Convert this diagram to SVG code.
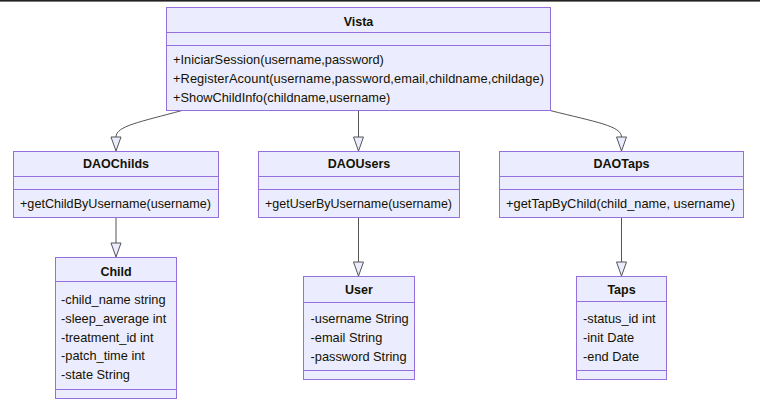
<svg xmlns="http://www.w3.org/2000/svg" width="760" height="411" viewBox="0 0 760 411">
<style>
.box{fill:#ECECFF;stroke:#9370DB;stroke-width:1}
.div{stroke:#9370DB;stroke-width:1;fill:none}
.edge{fill:none;stroke:#555;stroke-width:1}
.head{fill:#ECECFF;stroke:#555;stroke-width:1}
text{font-family:"Liberation Sans",Arial,sans-serif;fill:#131300}
.t{font-size:12.5px;font-weight:bold;text-anchor:middle}
.m{font-size:12.8px}
</style>
<rect x="0" y="0" width="760" height="1.6" fill="#222"/>
<g id="connectors">
<path class="edge" d="M182,110.5 C140,122 116,126 116,137"/>
<polygon class="head" points="111,137 121,137 116,151"/>
<path class="edge" d="M358.5,110.5 L358.5,137"/>
<polygon class="head" points="353.5,137 363.5,137 358.5,151"/>
<path class="edge" d="M550,110.5 C596,122 621.5,126 621.5,137"/>
<polygon class="head" points="616.5,137 626.5,137 621.5,151"/>
<path class="edge" d="M116,217.5 L116,243"/>
<polygon class="head" points="111,243 121,243 116,257"/>
<path class="edge" d="M358.5,217.5 L358.5,262"/>
<polygon class="head" points="353.5,262 363.5,262 358.5,276"/>
<path class="edge" d="M621.5,217.5 L621.5,262"/>
<polygon class="head" points="616.5,262 626.5,262 621.5,276"/>
</g>
<g id="Vista">
<rect class="box" x="166.5" y="7.5" width="384" height="103"/>
<path class="div" d="M166.5,32.5 H550.5 M166.5,45.5 H550.5"/>
<text class="t" x="358.5" y="26">Vista</text>
<text class="m" x="173" y="64.3">+IniciarSession(username,password)</text>
<text class="m" x="173" y="83" textLength="371" lengthAdjust="spacing">+RegisterAcount(username,password,email,childname,childage)</text>
<text class="m" x="173" y="101.5">+ShowChildInfo(childname,username)</text>
</g>
<g id="DAOChilds">
<rect class="box" x="13.5" y="151.5" width="205" height="66"/>
<path class="div" d="M13.5,176.5 H218.5 M13.5,189.5 H218.5"/>
<text class="t" x="116" y="168.3">DAOChilds</text>
<text class="m" x="20" y="208.3" textLength="191" lengthAdjust="spacingAndGlyphs">+getChildByUsername(username)</text>
</g>
<g id="DAOUsers">
<rect class="box" x="258.5" y="151.5" width="201" height="66"/>
<path class="div" d="M258.5,176.5 H459.5 M258.5,189.5 H459.5"/>
<text class="t" x="359" y="168.3">DAOUsers</text>
<text class="m" x="265" y="208.3" textLength="187" lengthAdjust="spacingAndGlyphs">+getUserByUsername(username)</text>
</g>
<g id="DAOTaps">
<rect class="box" x="499.5" y="151.5" width="244" height="66"/>
<path class="div" d="M499.5,176.5 H743.5 M499.5,189.5 H743.5"/>
<text class="t" x="621.5" y="168.3">DAOTaps</text>
<text class="m" x="506" y="208.3" textLength="229" lengthAdjust="spacing">+getTapByChild(child_name, username)</text>
</g>
<g id="Child">
<rect class="box" x="55.5" y="257.5" width="121" height="141"/>
<path class="div" d="M55.5,281.5 H176.5 M55.5,389.5 H176.5"/>
<text class="t" x="116" y="276">Child</text>
<text class="m" x="61" y="304">-child_name string</text>
<text class="m" x="61" y="322.8">-sleep_average int</text>
<text class="m" x="61" y="341.5">-treatment_id int</text>
<text class="m" x="61" y="360.3">-patch_time int</text>
<text class="m" x="61" y="379">-state String</text>
</g>
<g id="User">
<rect class="box" x="303.5" y="276.5" width="111" height="103"/>
<path class="div" d="M303.5,302.5 H414.5 M303.5,370.5 H414.5"/>
<text class="t" x="359" y="294.3">User</text>
<text class="m" x="310.5" y="323.3">-username String</text>
<text class="m" x="310.5" y="342">-email String</text>
<text class="m" x="310.5" y="360.5">-password String</text>
</g>
<g id="Taps">
<rect class="box" x="576.5" y="276.5" width="90" height="103"/>
<path class="div" d="M576.5,301.5 H666.5 M576.5,370.5 H666.5"/>
<text class="t" x="621.5" y="294.3">Taps</text>
<text class="m" x="583" y="323.3">-status_id int</text>
<text class="m" x="583" y="342">-init Date</text>
<text class="m" x="583" y="360.5">-end Date</text>
</g>
</svg>
